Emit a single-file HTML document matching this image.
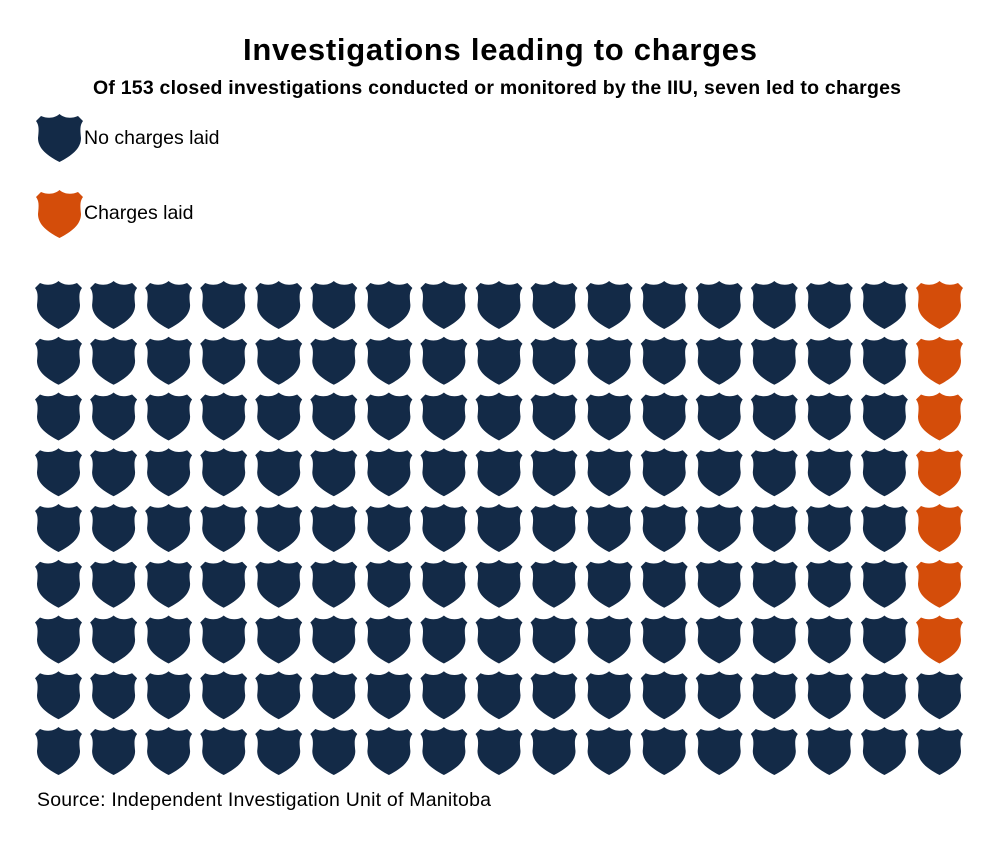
<!DOCTYPE html>
<html><head><style>
body{margin:0;background:#fff;width:1000px;height:847px;overflow:hidden;font-family:"Liberation Sans",sans-serif}
</style></head><body>
<svg width="1000" height="847" xmlns="http://www.w3.org/2000/svg">
<defs><path id="s" d="M23.5,0 C19,4 12,5 5,2 L0,7 C3,11 3,15 2,24 C2,35 12,42 23.5,48 C35,42 45,35 45,24 C44,15 44,11 47,7 L42,2 C35,5 28,4 23.5,0 Z"/></defs>
<text x="500" y="60" text-anchor="middle" font-family="Liberation Sans" font-weight="bold" font-size="31" textLength="514" fill="#000">Investigations leading to charges</text>
<text x="497" y="94" text-anchor="middle" font-family="Liberation Sans" font-weight="bold" font-size="19.5" textLength="808" fill="#000">Of 153 closed investigations conducted or monitored by the IIU, seven led to charges</text>
<use href="#s" x="36" y="114" fill="#132a47"/>
<text x="84" y="144" font-size="19.5" fill="#000">No charges laid</text>
<use href="#s" x="36" y="190" fill="#d44d0a"/>
<text x="84" y="219" font-size="19.5" fill="#000">Charges laid</text>
<g id="g"></g>
<text x="37" y="806" font-size="19.5" textLength="454" fill="#000">Source: Independent Investigation Unit of Manitoba</text>
</svg>
<script>
var g=document.getElementById('g'),h='';
for(var j=0;j<9;j++)for(var i=0;i<17;i++){
var c=(i==16&&j<7)?'#d44d0a':'#132a47';
h+='<use href="#s" x="'+(35+55.06*i).toFixed(1)+'" y="'+(281+55.75*j).toFixed(1)+'" fill="'+c+'"/>';}
g.innerHTML=h;
</script>
</body></html>
